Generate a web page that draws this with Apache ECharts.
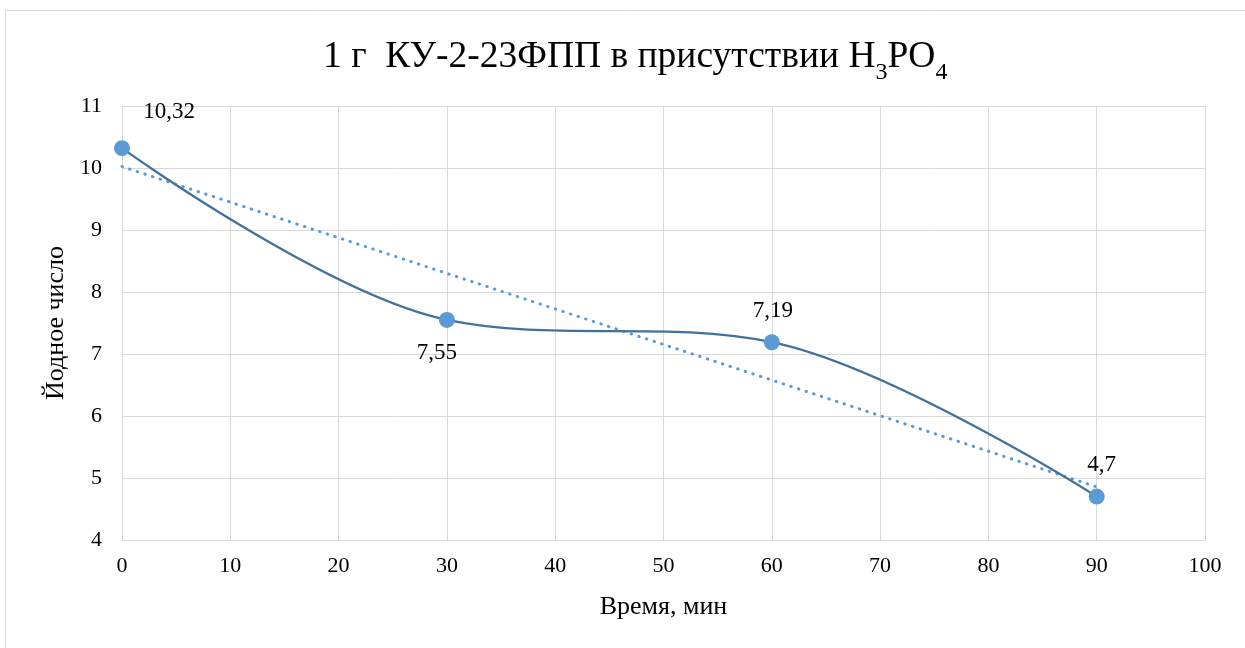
<!DOCTYPE html>
<html><head><meta charset="utf-8">
<script src="https://cdn.jsdelivr.net/npm/echarts@6/dist/echarts.min.js"></script>
<style>html,body{margin:0;padding:0;background:#fff}#c{width:1245px;height:648px}</style>
</head><body><div id="c"></div>
<script>
const times = [0, 30, 60, 90];
const iodine = [10.32, 7.55, 7.19, 4.7];
const labels = ['10,32', '7,55', '7,19', '4,7'];
const xTicks = [0,10,20,30,40,50,60,70,80,90,100];
const yTicks = [4,5,6,7,8,9,10,11];

// linear trendline (least squares) from data
const n = times.length;
const mx = times.reduce((a,b)=>a+b,0)/n, my = iodine.reduce((a,b)=>a+b,0)/n;
let sxy=0,sxx=0; for(let i=0;i<n;i++){sxy+=(times[i]-mx)*(iodine[i]-my);sxx+=(times[i]-mx)**2;}
const slope = sxy/sxx, icpt = my - slope*mx;
const trend = [[times[0], icpt+slope*times[0]], [times[n-1], icpt+slope*times[n-1]]];

const labelOffsets = [[47,-36],[-10,33],[1,-31],[5,-32]];
const font = '"Liberation Serif", "Times New Roman", serif';
const chart = echarts.init(document.getElementById('c'));
chart.setOption({
  animation:false,
  backgroundColor:'#fff',
  graphic:[{type:'rect', shape:{x:5.5,y:10.5,width:1300,height:700}, style:{fill:'none', stroke:'#D9D9D9', lineWidth:1}, silent:true, z:-10}],
  title:{
    text:'{t|1 г  КУ-2-23ФПП в присутствии H}{s|3}{t|PO}{s|4}',
    left:318, top:31,
    textStyle:{rich:{
      t:{fontFamily:font, fontSize:37.5, fontWeight:'normal', color:'#000', verticalAlign:'bottom', lineHeight:40},
      s:{fontFamily:font, fontSize:24, fontWeight:'normal', color:'#000', verticalAlign:'bottom', lineHeight:30, padding:[0,0,-9,0]}
    }}
  },
  grid:{left:122, right:40, top:106, bottom:108},
  xAxis:{
    type:'value', min:0, max:100, interval:10,
    name:'Время, мин', nameLocation:'middle', nameGap:54,
    nameTextStyle:{fontFamily:font, fontSize:26, color:'#000'},
    axisLine:{show:true, lineStyle:{color:'#D9D9D9'}},
    axisTick:{show:false},
    axisLabel:{fontFamily:font, fontSize:22, color:'#000', margin:15, formatter:v=>xTicks.includes(v)?String(v):''},
    splitLine:{show:true, lineStyle:{color:'#D9D9D9', width:1}}
  },
  yAxis:{
    type:'value', min:4, max:11, interval:1,
    name:'Йодное число', nameLocation:'middle', nameGap:52, nameRotate:90,
    nameTextStyle:{fontFamily:font, fontSize:26, color:'#000'},
    axisLine:{show:false},
    axisTick:{show:false},
    axisLabel:{fontFamily:font, fontSize:22, color:'#000', margin:20, formatter:v=>yTicks.includes(v)?String(v):''},
    splitLine:{show:true, lineStyle:{color:'#D9D9D9', width:1}}
  },
  series:[
    {
      type:'line', data:trend, symbol:'none', silent:true,
      lineStyle:{color:'#5B9BD5', width:3, type:[0.5,7.5], cap:'round'}, z:2
    },
    {
      type:'line', smooth:0.35,
      data: times.map((t,i)=>({value:[t, iodine[i]], label:{show:true, formatter:labels[i], position:'inside', offset:labelOffsets[i]}})),
      symbol:'circle', symbolSize:16,
      itemStyle:{color:'#5B9BD5'},
      lineStyle:{color:'#41719C', width:2.25},
      label:{fontFamily:font, fontSize:23, color:'#000'},
      z:3
    }
  ]
});
</script></body></html>
